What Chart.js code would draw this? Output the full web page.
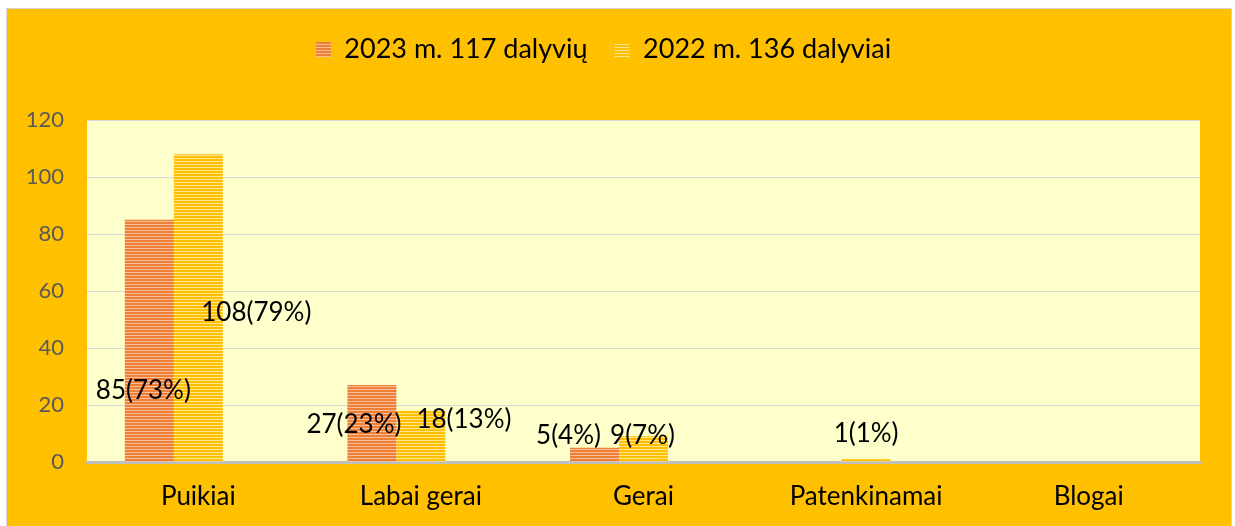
<!DOCTYPE html>
<html>
<head>
<meta charset="utf-8">
<script src="https://cdn.jsdelivr.net/npm/chart.js@4.4.1/dist/chart.umd.min.js"></script>
<style>
  html, body { margin: 0; padding: 0; background: #fff; overflow: hidden; }
  #wrap {
    position: absolute; left: 6px; top: 8px;
    width: 1224px; height: 520px;
    border: 1px solid #d4d4d4;
    background: #FFC000;
  }
</style>
</head>
<body>
<div id="wrap"><canvas id="chart"></canvas></div>
<script>
// data
var categories = ["Puikiai", "Labai gerai", "Gerai", "Patenkinamai", "Blogai"];
var seriesNames = ["2023 m. 117 dalyvių", "2022 m. 136 dalyviai"];
var values2023 = [85, 27, 5, 0, 0];
var values2022 = [108, 18, 9, 1, 0];
var percent2023 = [73, 23, 4, 0, 0];
var percent2022 = [79, 13, 7, 1, 0];
var yTicks = [0, 20, 40, 60, 80, 100, 120];

// striped fill like the excel pattern
function stripes(main, light) {
	var c = document.createElement("canvas");
	c.width = 4; c.height = 3;
	var g = c.getContext("2d");
	g.fillStyle = main; g.fillRect(0, 0, 4, 3);
	g.fillStyle = light; g.fillRect(0, 2, 4, 1);
	return g.createPattern(c, "repeat");
}
var ctx = document.getElementById("chart").getContext("2d");
var fillOrange = stripes("#EE7F36", "#F7BE97");
var fillYellow = stripes("#FFC000", "#FFE48C");

var plotBg = {
	id: "plotBg",
	beforeDraw: function (chart) {
		var a = chart.chartArea, c = chart.ctx;
		c.save();
		c.fillStyle = "#FFFFCC";
		c.fillRect(a.left, a.top, a.right - a.left, a.bottom - a.top);
		c.restore();
	}
};

// excel-style value labels, nudged from the bar like in the original
var valueLabels = {
	id: "valueLabels",
	afterDatasetsDraw: function (chart, args, opts) {
		var c = chart.ctx;
		var base = chart.scales.y.getPixelForValue(0);
		var pct = [percent2023, percent2022];
		c.save();
		c.font = "26px Lato";
		c.fillStyle = "#000";
		c.textAlign = "center";
		c.textBaseline = "middle";
		for (var d = 0; d < 2; d++) {
			var meta = chart.getDatasetMeta(d);
			var vals = chart.data.datasets[d].data;
			for (var i = 0; i < vals.length; i++) {
				var s = opts.shift[d][i];
				if (!s || vals[i] <= 0) continue;
				var el = meta.data[i];
				c.fillText(vals[i] + "(" + pct[d][i] + "%)", el.x + s[0], base - s[1]);
			}
		}
		c.restore();
	}
};

var chart = new Chart(ctx, {
	type: "bar",
	data: {
		labels: categories,
		datasets: [
			{ label: seriesNames[0], data: values2023, backgroundColor: fillOrange, borderWidth: 0 },
			{ label: seriesNames[1], data: values2022, backgroundColor: fillYellow, borderWidth: 0 },
			// empty third series: excel kept a slot for it, which shifts the bars left
			{ label: "", data: [null, null, null, null, null], backgroundColor: "rgba(0,0,0,0)" }
		]
	},
	options: {
		responsive: true,
		maintainAspectRatio: false,
		animation: false,
		devicePixelRatio: 1,
		layout: { padding: { top: 0, right: 31, bottom: 0, left: 0 } },
		datasets: { bar: { categoryPercentage: 0.66, barPercentage: 1 } },
		plugins: {
			legend: {
				display: true,
				position: "top",
				labels: {
					font: { family: "Lato", size: 27 },
					color: "#000",
					boxWidth: 15,
					boxHeight: 15,
					padding: 27,
					filter: function (item) { return item.datasetIndex < 2; }
				}
			},
			// blank title used as the gap between legend and plot
			title: { display: true, text: "", weight: 500, font: { size: 10 }, padding: { top: 35, bottom: 0 } },
			tooltip: { enabled: false },
			valueLabels: {
				shift: [
					[[-6, 71], [-18, 37], [-26, 26], null, null],
					[[58, 149], [43, 42], [-1, 26], [0, 28], null]
				]
			}
		},
		scales: {
			x: {
				grid: { display: false, drawTicks: false },
				border: { display: true, color: "#BFBFBF", width: 3 },
				ticks: { color: "#000", font: { family: "Lato", size: 26 }, padding: 19 },
				afterFit: function (s) { s.height = 67; }
			},
			y: {
				min: 0,
				max: 120,
				afterBuildTicks: function (s) { s.ticks = yTicks.map(function (v) { return { value: v }; }); },
				grid: { color: "#D9D9D9", lineWidth: 1, drawTicks: false },
				border: { display: false },
				ticks: { color: "#595959", font: { family: "Lato", size: 22 }, padding: 23 },
				afterFit: function (s) { s.width = 80; }
			}
		}
	},
	plugins: [plotBg, valueLabels]
});
</script>
</body>
</html>
